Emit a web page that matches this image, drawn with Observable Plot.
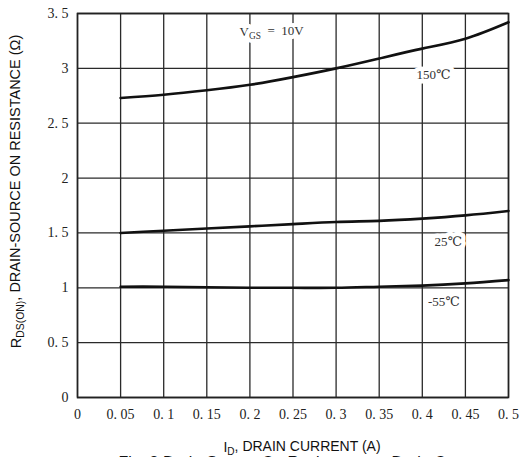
<!DOCTYPE html>
<html>
<head>
<meta charset="utf-8">
<script src="https://cdn.jsdelivr.net/npm/d3@7"></script>
<script src="https://cdn.jsdelivr.net/npm/@observablehq/plot@0.6"></script>
<style>
  html, body { margin: 0; padding: 0; background: #fff; overflow: hidden; }
</style>
</head>
<body>
<div id="chart"></div>
<script>
// Drain current (A)
const current = [0.05, 0.1, 0.15, 0.2, 0.25, 0.3, 0.35, 0.4, 0.45, 0.5];
// RDS(on) (ohm) per temperature
const r150 = [2.73, 2.76, 2.80, 2.85, 2.92, 3.00, 3.09, 3.18, 3.27, 3.42];
const r25  = [1.50, 1.52, 1.54, 1.56, 1.58, 1.60, 1.61, 1.63, 1.66, 1.70];
const rm55 = [1.01, 1.01, 1.005, 1.0, 1.0, 1.0, 1.01, 1.02, 1.04, 1.07];
const seriesNames = ["150℃", "25℃", "-55℃"];
const xTicks = [0, 0.05, 0.1, 0.15, 0.2, 0.25, 0.3, 0.35, 0.4, 0.45, 0.5];
const yTicks = [0, 0.5, 1, 1.5, 2, 2.5, 3, 3.5];
// Curve labels
const labelText = ["150℃", "25℃", "-55℃"];
const labelX = [0.413, 0.430, 0.425];
const labelY = [2.94, 1.42, 0.87];

const rows = [];
[r150, r25, rm55].forEach((arr, s) => arr.forEach((v, i) => rows.push({x: current[i], y: v, s: seriesNames[s]})));
const labels = labelText.map((t, i) => ({t, x: labelX[i], y: labelY[i]}));

const fmt = d => String(d).replace(".", ". ");
const serif = "'Liberation Serif', 'DejaVu Serif', serif";
const sans = "'Liberation Sans', Arial, sans-serif";

const plot = Plot.plot({
  width: 522,
  height: 457,
  marginTop: 13,
  marginLeft: 77,
  marginRight: 14,
  marginBottom: 60,
  style: {fontFamily: serif, fontSize: "14px", color: "#222", background: "#fff"},
  x: {domain: [0, 0.5], ticks: xTicks, tickFormat: fmt, tickSize: 0, tickPadding: 12, label: null},
  y: {domain: [0, 3.5], ticks: yTicks, tickFormat: fmt, tickSize: 0, tickPadding: 9, label: null},
  marks: [
    Plot.ruleX(xTicks, {stroke: "#2a2a2a", strokeWidth: 1.3}),
    Plot.ruleY(yTicks, {stroke: "#2a2a2a", strokeWidth: 1.3}),
    Plot.frame({stroke: "#222", strokeWidth: 1.6}),
    Plot.line(rows, {x: "x", y: "y", z: "s", stroke: "#111", strokeWidth: 2.6, curve: "natural"}),
    Plot.text(labels, {x: "x", y: "y", text: "t", fontSize: 13, fill: "#333", stroke: "white", strokeWidth: 9, fontFamily: serif}),
    Plot.text(["VGS"], {x: () => 0.188, y: () => 3.33, text: d => d, textAnchor: "start", fontSize: 13, fill: "#333", stroke: "white", strokeWidth: 8, fontFamily: serif, className: "vgs"}),
    Plot.text(["YT"], {frameAnchor: "left", text: d => d, rotate: -90, textAnchor: "middle", lineAnchor: "middle", dx: -61, dy: -14, fontSize: 14.5, fill: "#111", fontFamily: sans, className: "ytitle"}),
    Plot.text(["XT"], {frameAnchor: "bottom", text: d => d, textAnchor: "middle", lineAnchor: "middle", dx: 9, dy: 50, fontSize: 14, fill: "#111", fontFamily: sans, className: "xtitle"}),
    Plot.text(["Fig. 3 Drain-Source On Resistance vs Drain Current"], {frameAnchor: "bottom", text: d => d, textAnchor: "middle", lineAnchor: "middle", dx: 10, dy: 65, fontSize: 16, fill: "#111", fontFamily: sans})
  ]
});
document.getElementById("chart").appendChild(plot);

const svg = d3.select(plot);
function sub(sel, parts) {
  const t = sel.select("text");
  t.text("");
  parts.forEach(([txt, small]) => {
    const ts = t.append("tspan").text(txt);
    if (small === 1) ts.attr("font-size", "0.72em").attr("dy", "0.3em");
    if (small === -1) ts.attr("dy", "-0.3em");
  });
}
sub(svg.select(".vgs"), [["V", 0], ["GS", 1], ["  =  10V", -1]]);
sub(svg.select(".ytitle"), [["R", 0], ["DS(ON)", 1], [", DRAIN-SOURCE ON RESISTANCE (Ω)", -1]]);
sub(svg.select(".xtitle"), [["I", 0], ["D", 1], [", DRAIN CURRENT (A)", -1]]);
</script>
</body>
</html>
